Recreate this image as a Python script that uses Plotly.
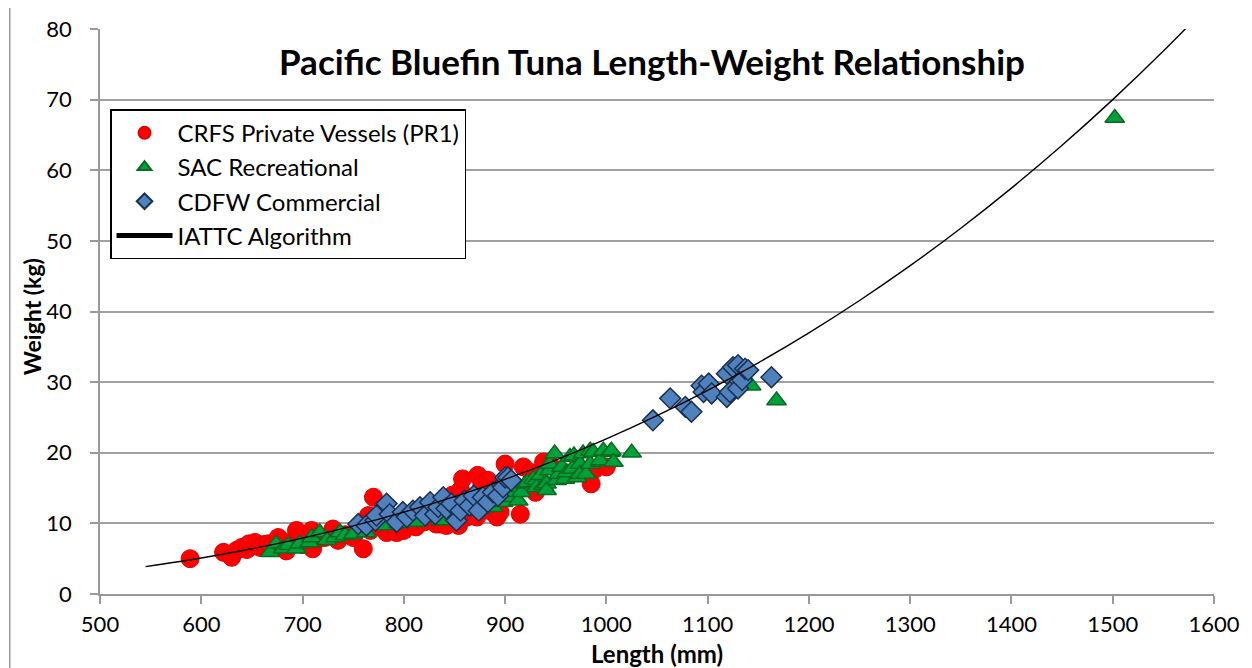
import plotly.graph_objects as go

# CRFS Private Vessels (PR1)
crfs_len = [589, 622, 630, 635, 640, 645, 647, 653, 658, 662, 666, 670, 676, 680, 684, 688,
            694, 700, 705, 709, 710, 715, 722, 730, 735, 742, 750, 760, 765, 767, 770, 783,
            786, 790, 793, 800, 805, 812, 820, 832, 836, 842, 846, 848, 854, 856, 858, 862,
            865, 868, 872, 873, 877, 883, 885, 888, 892, 895, 900, 915, 918, 926, 930, 938,
            945, 985, 989, 1000]
crfs_wt = [5.0, 5.9, 5.2, 6.2, 6.6, 6.3, 7.1, 7.3, 6.6, 7.0, 7.1, 6.8, 8.0, 7.5, 6.1, 7.2,
           9.0, 7.0, 7.6, 9.0, 6.4, 7.8, 8.0, 9.2, 7.6, 8.4, 8.0, 6.4, 11.1, 9.0, 13.7, 8.7,
           9.0, 9.5, 8.7, 9.0, 10.0, 9.5, 10.2, 9.9, 9.9, 9.7, 10.4, 14.0, 9.7, 14.7, 16.3, 10.9,
           11.1, 11.5, 10.9, 16.8, 15.5, 16.1, 11.8, 11.8, 10.9, 11.6, 18.4, 11.3, 18.0, 17.2, 14.4, 18.7,
           18.2, 15.6, 17.7, 18.0]

# SAC Recreational
sac_len = [668, 674, 681, 686, 694, 697, 707, 709, 717, 724, 732, 737, 742, 750, 763, 770,
           780, 795, 813, 836, 850, 862, 875, 888, 892, 898, 908, 910, 911, 913, 916, 920,
           922, 928, 931, 931, 935, 938, 941, 941, 944, 944, 949, 951, 953, 956, 959, 961,
           964, 966, 968, 971, 974, 974, 977, 980, 984, 984, 987, 994, 994, 997, 1004, 1005,
           1007, 1025, 1143, 1168, 1502]
sac_wt = [5.9, 7.1, 6.4, 6.9, 6.4, 7.1, 7.3, 8.0, 8.7, 7.6, 8.0, 8.7, 8.3, 8.5, 8.7, 9.8,
          9.7, 10.0, 10.2, 10.4, 11.0, 11.8, 12.0, 12.3, 13.2, 13.0, 13.7, 14.4, 15.1, 13.2, 14.4, 15.6,
          15.8, 16.3, 16.1, 15.1, 16.8, 15.4, 15.6, 14.7, 17.5, 18.4, 19.9, 16.1, 17.0, 18.0, 16.3, 17.2,
          19.4, 17.7, 19.6, 16.5, 18.4, 17.0, 19.9, 17.0, 18.4, 20.3, 20.1, 18.7, 18.9, 20.3, 20.1, 20.3,
          18.7, 20.0, 29.5, 27.4, 67.4]

# CDFW Commercial
cdfw_len = [755, 763, 772, 773, 783, 786, 793, 799, 803, 809, 816, 821, 826, 831, 834, 839,
            842, 847, 852, 856, 860, 865, 869, 874, 878, 883, 888, 893, 897, 898, 900, 903,
            906, 1046, 1063, 1078, 1084, 1094, 1096, 1101, 1104, 1119, 1119, 1122, 1125, 1130,
            1130, 1134, 1137, 1140, 1163]
cdfw_wt = [9.9, 9.7, 10.4, 11.1, 12.8, 11.3, 10.2, 11.6, 10.9, 11.8, 12.3, 11.1, 13.0, 11.3, 12.3, 13.7,
           12.1, 12.8, 10.4, 11.8, 13.2, 12.5, 13.9, 11.8, 13.7, 13.0, 14.4, 13.9, 15.4, 15.1, 16.5, 16.5,
           16.1, 24.6, 27.7, 26.5, 25.8, 29.5, 28.6, 29.8, 28.4, 31.2, 27.9, 28.6, 32.1, 32.4,
           29.1, 30.3, 31.9, 31.7, 30.7]

# IATTC Algorithm curve
iattc_len = [545, 600, 650, 700, 750, 800, 850, 900, 950, 1000, 1050, 1100, 1150, 1200,
             1250, 1300, 1350, 1400, 1450, 1500, 1550, 1600]
iattc_wt = [3.87, 5.09, 6.40, 7.92, 9.64, 11.60, 13.79, 16.24, 18.96, 21.95, 25.24, 28.83,
            32.74, 36.98, 41.56, 46.49, 51.79, 57.47, 63.53, 70.0, 76.88, 84.18]

x_ticks = [500, 600, 700, 800, 900, 1000, 1100, 1200, 1300, 1400, 1500, 1600]
y_ticks = [0, 10, 20, 30, 40, 50, 60, 70, 80]

FONT = "Lato, Carlito, Calibri, sans-serif"

fig = go.Figure()
fig.add_trace(go.Scatter(x=crfs_len, y=crfs_wt, mode="markers", name="CRFS Private Vessels (PR1)",
                         marker=dict(symbol="circle", size=18, color="#FF0000",
                                     line=dict(color="#E00000", width=1))))
fig.add_trace(go.Scatter(x=sac_len, y=sac_wt, mode="markers", name="SAC Recreational",
                         marker=dict(symbol="triangle-up", size=17, color="#00A03C",
                                     line=dict(color="#0A6B1E", width=1.5))))
fig.add_trace(go.Scatter(x=cdfw_len, y=cdfw_wt, mode="markers", name="CDFW Commercial",
                         marker=dict(symbol="diamond", size=16, color="#4F81BD",
                                     line=dict(color="#1B2F4E", width=1.5))))
fig.add_trace(go.Scatter(x=iattc_len, y=iattc_wt, mode="lines", name="IATTC Algorithm",
                         line=dict(color="black", width=1.4, shape="spline")))

fig.update_layout(
    width=1236, height=660,
    margin=dict(l=92, r=30, t=21, b=74, autoexpand=False),
    paper_bgcolor="white", plot_bgcolor="white",
    font=dict(family=FONT, size=22, color="black"),
    showlegend=True,
    legend=dict(x=0.009, y=0.858, xanchor="left", yanchor="top",
                bordercolor="black", borderwidth=1.5, bgcolor="white",
                font=dict(size=24, family=FONT), tracegroupgap=0, itemsizing="constant",
                itemwidth=56),
    annotations=[
        dict(text="<b>Pacific Bluefin Tuna Length-Weight Relationship</b>", x=0.4955, y=0.944,
             xref="paper", yref="paper", xanchor="center", yanchor="middle", showarrow=False,
             font=dict(size=35, family=FONT)),
        dict(text="<b>Length (mm)</b>", x=0.5, y=-0.106, xref="paper", yref="paper",
             xanchor="center", yanchor="middle", showarrow=False, font=dict(size=24, family=FONT)),
        dict(text="<b>Weight (kg)</b>", x=-0.061, y=0.49, xref="paper", yref="paper",
             xanchor="center", yanchor="middle", textangle=-90, showarrow=False,
             font=dict(size=23, family=FONT)),
    ],
    shapes=[dict(type="line", xref="paper", yref="paper", x0=-0.081, x1=-0.081, y0=-0.2, y1=1.1,
                 line=dict(color="#999999", width=1.5))],
)
fig.update_xaxes(range=[500, 1600], tickvals=x_ticks, showgrid=False, zeroline=False,
                 showline=True, linecolor="#999999", linewidth=1.5, automargin=False,
                 ticks="outside", tickcolor="#999999", ticklen=8, tickwidth=1.5,
                 ticklabelstandoff=2, tickfont=dict(size=22))
fig.update_yaxes(range=[0, 80], tickvals=y_ticks, showgrid=True, gridcolor="#A0A0A0", gridwidth=1.5,
                 zeroline=False, showline=True, linecolor="#999999", linewidth=1.5, automargin=False,
                 ticks="outside", tickcolor="#999999", ticklen=8, tickwidth=1.5,
                 ticklabelstandoff=14, tickfont=dict(size=22))

fig.write_html("out.html")
